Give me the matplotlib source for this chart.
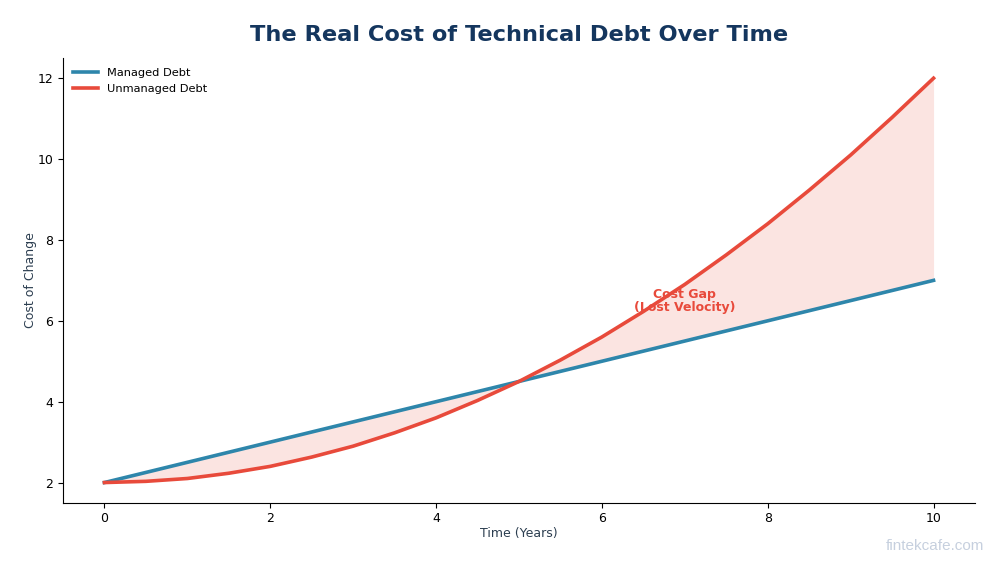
import numpy as np
import matplotlib
matplotlib.use("Agg")
import matplotlib.pyplot as plt

# values
years = [0, 0.5, 1, 1.5, 2, 2.5, 3, 3.5, 4, 4.5, 5, 5.5, 6, 6.5, 7, 7.5, 8, 8.5, 9, 9.5, 10]
managed = [2.0, 2.25, 2.5, 2.75, 3.0, 3.25, 3.5, 3.75, 4.0, 4.25, 4.5, 4.75, 5.0, 5.25, 5.5, 5.75, 6.0, 6.25, 6.5, 6.75, 7.0]
unmanaged = [2.0, 2.03, 2.1, 2.23, 2.4, 2.63, 2.9, 3.23, 3.6, 4.03, 4.5, 5.03, 5.6, 6.23, 6.9, 7.63, 8.4, 9.23, 10.1, 11.03, 12.0]

C_MANAGED = "#2e86ab"
C_UNMANAGED = "#e84a3b"
C_TITLE = "#14365e"
C_LABEL = "#2c3e50"

fig = plt.figure(figsize=(10, 5.63), dpi=100)
ax = fig.add_axes([0.063, 0.107, 0.912, 0.790])

x = np.array(years)
ax.fill_between(x, managed, unmanaged, color=C_UNMANAGED, alpha=0.15, linewidth=0)
ax.plot(x, managed, color=C_MANAGED, lw=2.6, label="Managed Debt")
ax.text(7, 6.5, "Cost Gap\n(Lost Velocity)", color=C_UNMANAGED, fontsize=9,
        fontweight="bold", ha="center", va="center", zorder=1, linespacing=1.0)
ax.plot(x, unmanaged, color=C_UNMANAGED, lw=2.6, label="Unmanaged Debt", zorder=3)

ax.set_xlim(-0.5, 10.5)
ax.set_ylim(1.5, 12.5)
ax.set_xticks([0, 2, 4, 6, 8, 10])
ax.set_yticks([2, 4, 6, 8, 10, 12])
ax.tick_params(labelsize=9)
ax.set_xlabel("Time (Years)", fontsize=9, color=C_LABEL, labelpad=1)
ax.set_ylabel("Cost of Change", fontsize=9, color=C_LABEL, labelpad=0)
ax.spines["top"].set_visible(False)
ax.spines["right"].set_visible(False)

fig.text(0.519, 0.938, "The Real Cost of Technical Debt Over Time", fontsize=16.2,
         fontweight="heavy", color=C_TITLE, ha="center", va="center")

ax.legend(loc="upper left", frameon=False, fontsize=8.2, handlelength=2.2,
          borderaxespad=0.5)

fig.text(0.935, 0.03, "fintekcafe.com", fontsize=11, color="#b8c4d6",
         ha="center", va="center", family="Liberation Sans", alpha=0.8)

fig.savefig("out.png", dpi=100)
